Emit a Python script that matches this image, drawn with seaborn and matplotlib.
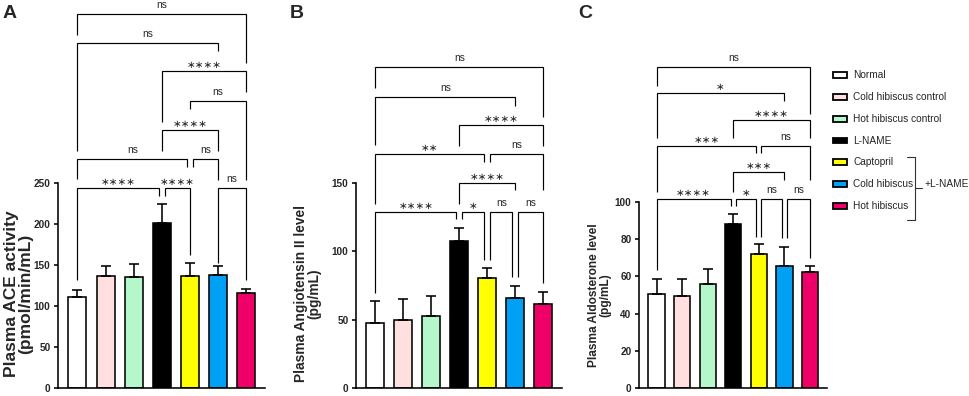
import numpy as np
import pandas as pd
import matplotlib
matplotlib.use("Agg")
import matplotlib.pyplot as plt
from matplotlib.patches import Rectangle
from matplotlib.lines import Line2D
import seaborn as sns

# ---------------- data ----------------
groups = ["Normal", "Cold hibiscus control", "Hot hibiscus control", "L-NAME",
          "Captopril", "Cold hibiscus", "Hot hibiscus"]
colors = ["#FFFFFF", "#FFDFDF", "#B3F7CB", "#000000", "#FFFF00", "#00A0F4", "#EE0068"]

ace_mean = [111, 136, 135, 201, 137, 138, 116]
ace_err = [8.5, 13, 16, 23, 15, 10.5, 4.5]

ang_mean = [47.5, 49.5, 52.5, 107.5, 80.5, 65.5, 61.5]
ang_err = [16.5, 15.5, 15, 9.5, 7.3, 9.3, 8.5]

ald_mean = [50.7, 49.2, 55.7, 88.3, 71.8, 65.8, 62.5]
ald_err = [7.7, 9.2, 8.0, 5.2, 5.3, 10.1, 3.2]

ylabels = ["Plasma ACE activity\n(pmol/min/mL)",
           "Plasma Angiotensin II level\n(pg/mL)",
           "Plasma Aldosterone level\n(pg/mL)"]
yticks = [[0, 50, 100, 150, 200, 250], [0, 50, 100, 150], [0, 20, 40, 60, 80, 100]]
panel_letters = ["A", "B", "C"]

# significance brackets: (x1, x2, y_bar, y_left_end, y_right_end, label)
brackets_ace = [
    (0, 6, 456, 431, 396, "ns"),
    (0, 5, 421, 289, 411, "ns"),
    (3, 6, 386, 324, 361, "****"),
    (4, 6, 350, 340, 254, "ns"),
    (3, 5, 315, 289, 289, "****"),
    (0, 3.9, 279, 255, 270, "ns"),
    (4.1, 5, 279, 270, 254, "ns"),
    (0, 2.9, 243.5, 132, 234, "****"),
    (3.1, 4, 243.5, 234, 162, "****"),
    (5, 6, 243.5, 153, 132, "ns"),
]
brackets_ang = [
    (0, 6, 235, 219.7, 198.5, "ns"),
    (0, 5, 213, 177.8, 206, "ns"),
    (3, 6, 192.4, 177, 177, "****"),
    (0, 3.9, 171, 134.4, 165.5, "**"),
    (4.1, 6, 171, 165.5, 145, "ns"),
    (3, 5, 150, 135, 145, "****"),
    (0, 2.9, 129, 69.5, 124, "****"),
    (3.1, 3.9, 129, 124, 93.6, "*"),
    (4.1, 4.9, 129, 93.6, 81.4, "ns"),
    (5.1, 6, 129, 81.4, 76.6, "ns"),
]
brackets_ald = [
    (0, 6, 172.3, 162, 147, "ns"),
    (0, 5, 158, 134, 154, "*"),
    (3, 6, 143.7, 134, 134, "****"),
    (0, 3.9, 130, 105, 126, "***"),
    (4.1, 6, 130, 126, 111.6, "ns"),
    (3, 5, 115.7, 105, 111.6, "***"),
    (0, 2.9, 101.4, 63.4, 97.6, "****"),
    (3.1, 3.9, 101.4, 97.6, 81.2, "*"),
    (4.1, 4.9, 101.4, 81.2, 80.3, "ns"),
    (5.1, 6, 101.4, 80.3, 70, "ns"),
]

# ---------------- style ----------------
sns.set_theme(style="ticks")
plt.rcParams["font.family"] = ["Liberation Sans", "DejaVu Sans"]

W, H = 969, 396
fig = plt.figure(figsize=(W / 100, H / 100), dpi=100)
fig.patch.set_facecolor("white")


def add_axes_px(left, right, bottom, top):
    return fig.add_axes([left / W, 1 - bottom / H, (right - left) / W, (bottom - top) / H])


axes = [add_axes_px(58, 265, 388, 183),
        add_axes_px(356, 562, 388, 183),
        add_axes_px(639, 827, 388.3, 201.7)]

# (mean, err, brackets, ymax, label fontsize, label linespacing, label coords)
panels = [(ace_mean, ace_err, brackets_ace, 250, 12.5, 0.92, (-0.122, 0.46)),
          (ang_mean, ang_err, brackets_ang, 150, 9.9, 0.95, (-0.167, 0.46)),
          (ald_mean, ald_err, brackets_ald, 100, 8.6, 0.95, (-0.146, 0.5))]

LW = 1.15
for ax, (mean, err, brks, ymax, ylfs, ylls, lblpos), ylab, yt in zip(axes, panels, ylabels, yticks):
    df = pd.DataFrame({"group": groups, "value": mean})
    sns.barplot(data=df, x="group", y="value", hue="group", palette=colors,
                order=groups, hue_order=groups, dodge=False, legend=False,
                errorbar=None, width=0.64, edgecolor="black", linewidth=LW,
                saturation=1, ax=ax, zorder=2)
    ax.errorbar(np.arange(len(groups)), mean, yerr=[np.zeros(len(err)), err],
                fmt="none", ecolor="black", elinewidth=LW, capsize=3.6,
                capthick=LW, zorder=3)
    ax.set_xlim(-0.69, 6.67)
    ax.set_ylim(0, ymax)
    ax.set_yticks(yt)
    ax.set_xticks([])
    ax.set_xlabel("")
    ax.set_ylabel(ylab, fontsize=ylfs, fontweight="bold", linespacing=ylls)
    ax.yaxis.set_label_coords(*lblpos)
    for t in ax.get_yticklabels():
        t.set_fontweight("bold")
        t.set_fontsize(7.2)
    ax.tick_params(axis="y", length=3.2, width=LW, pad=2.2, color="black")
    sns.despine(ax=ax)
    for s in ["left", "bottom"]:
        ax.spines[s].set_linewidth(LW)
        ax.spines[s].set_color("black")
    ax.set_facecolor("none")

    for (x1, x2, yb, yl, yr, lab) in brks:
        ax.plot([x1, x1, x2, x2], [yl, yb, yb, yr], color="black", lw=0.85,
                clip_on=False, solid_joinstyle="miter", solid_capstyle="butt", zorder=4)
        if "*" in lab:
            txt = "\u2217" * len(lab)
            ax.annotate(txt, xy=((x1 + x2) / 2, yb), xytext=(0, 2.2),
                        textcoords="offset points", ha="center", va="baseline",
                        fontsize=7.5, family="DejaVu Sans", annotation_clip=False)
        else:
            ax.annotate(lab, xy=((x1 + x2) / 2, yb), xytext=(0, 4.2),
                        textcoords="offset points", ha="center", va="baseline",
                        fontsize=7.3, annotation_clip=False)

# panel letters
for letter, xp in zip(panel_letters, [3, 290, 578]):
    fig.text(xp / W, 1 - 18 / H, letter, fontsize=14, fontweight="bold",
             ha="left", va="baseline")

# legend (drawn in figure pixel space)
row_y = [75, 97, 119, 140.5, 162, 184, 206]
for yy, lab, col in zip(row_y, groups, colors):
    fig.add_artist(Rectangle((832.5 / W, 1 - (yy + 2.8) / H), 14 / W, 5.6 / H,
                             transform=fig.transFigure, facecolor=col,
                             edgecolor="black", linewidth=1.3))
    fig.text(853 / W, 1 - yy / H, lab, fontsize=7.3, ha="left", va="center")

# brace for +L-NAME group
bx = 915
brace = [((907, 156.5), (bx, 156.5)), ((bx, 156.5), (bx, 220)),
         ((907, 220), (bx, 220)), ((bx, 188), (922, 188))]
for (xa, ya), (xb, yb) in brace:
    fig.add_artist(Line2D([xa / W, xb / W], [1 - ya / H, 1 - yb / H],
                          transform=fig.transFigure, color="#333333", lw=0.8))
fig.text(924 / W, 1 - 184 / H, "+L-NAME", fontsize=7.3, ha="left", va="center")

fig.savefig("out.png", dpi=100, facecolor="white")
